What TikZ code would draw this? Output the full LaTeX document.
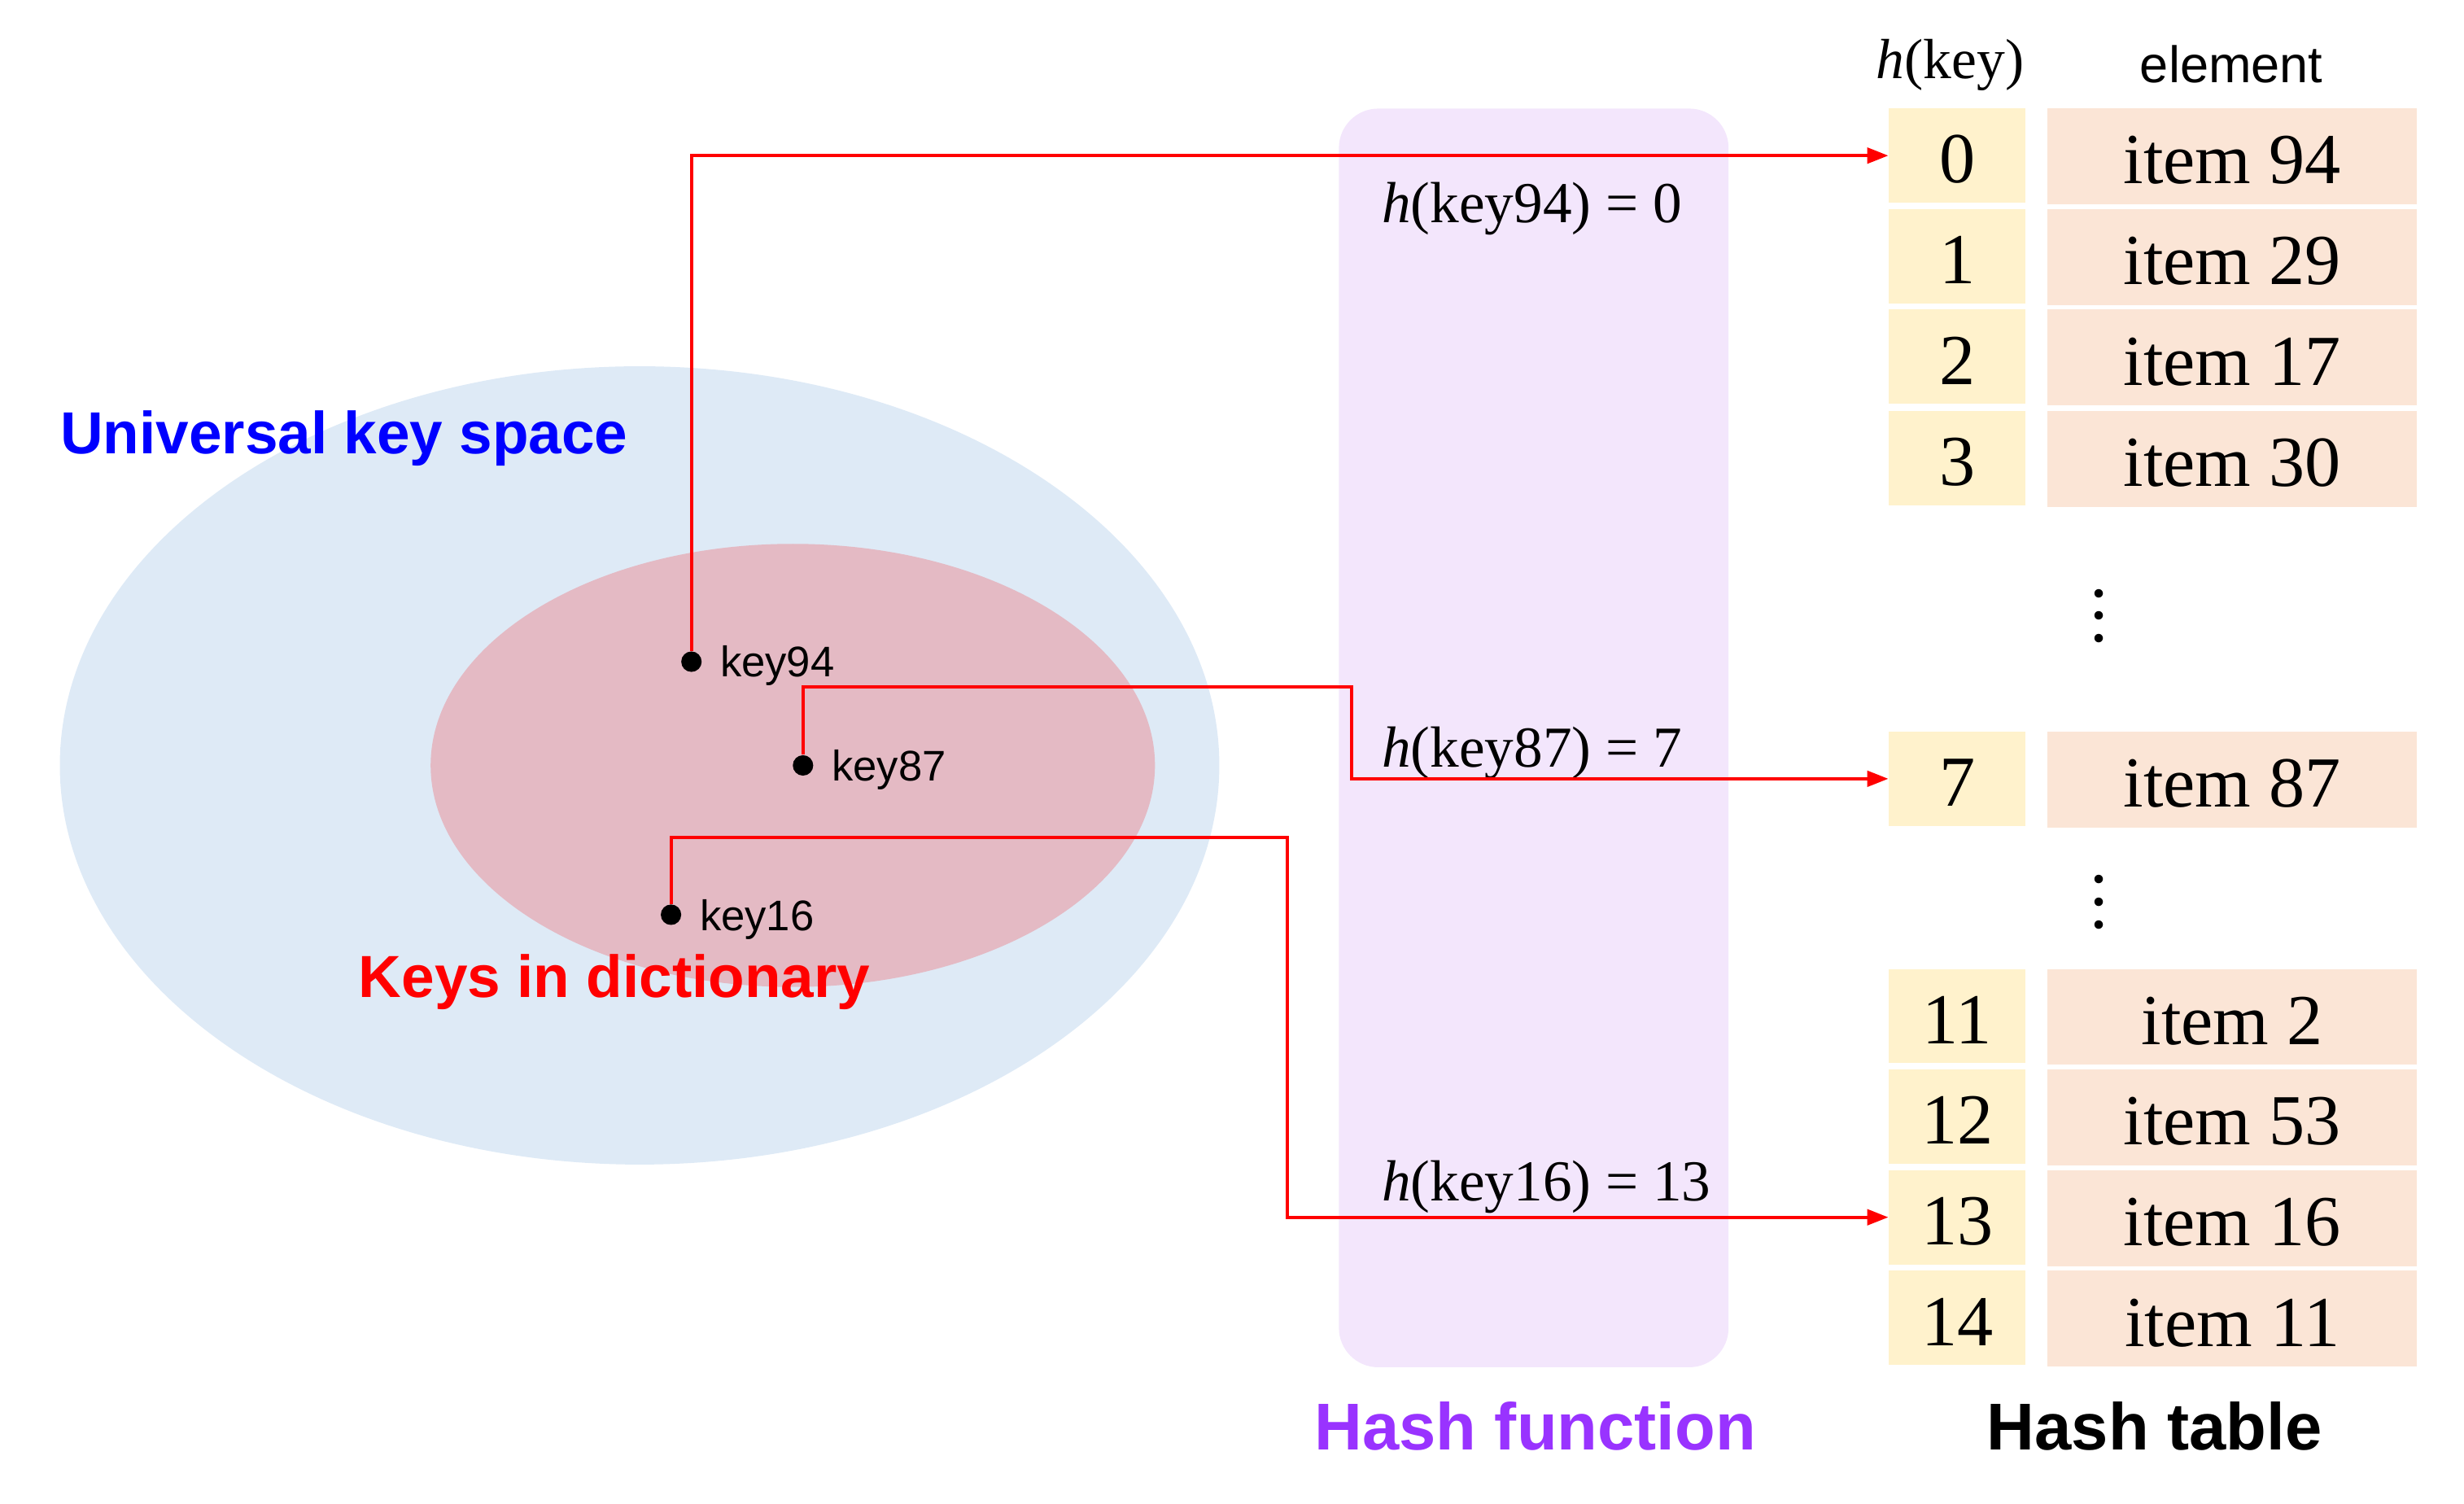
\documentclass[tikz,border=0pt]{standalone}
\usepackage{fontspec}
\setmainfont{Liberation Serif}
\newfontfamily\arial{Liberation Sans}
\usetikzlibrary{arrows.meta,shapes.geometric}
\definecolor{outerblue}{HTML}{DEEAF6}
\definecolor{innerpink}{HTML}{E4BAC4}
\definecolor{hashpurple}{HTML}{F3E6FC}
\definecolor{keycell}{HTML}{FFF2CC}
\definecolor{elemcell}{HTML}{FBE5D6}
\definecolor{purpletext}{HTML}{9933FF}
\definecolor{redline}{HTML}{FF0000}
\definecolor{bluetext}{HTML}{0000FF}
\newcommand{\myvdots}{\vbox{\baselineskip=8.2pt\lineskiplimit=0pt\hbox{.}\hbox{.}\hbox{.}}}
\begin{document}
\begin{tikzpicture}[x=0.02cm,y=-0.02cm,
  keybox/.style={fill=keycell, inner sep=0, minimum width=1.74cm, minimum height=1.2cm, text height=0.7cm, text depth=0cm, font=\fontsize{26}{30}\selectfont},
  elembox/.style={fill=elemcell, inner sep=0, minimum width=4.7cm, minimum height=1.22cm, text height=0.7cm, text depth=0cm, font=\fontsize{26}{30}\selectfont},
  keydot/.style={circle, fill=black, inner sep=0, minimum size=0.26cm},
  keylabel/.style={anchor=west, inner sep=0, font=\arial\fontsize{15.5}{18}\selectfont},
  hashlabel/.style={anchor=west, inner sep=0, font=\fontsize{21}{25}\selectfont},
  biglabel/.style={inner sep=0, font=\arial\bfseries\fontsize{21.5}{25}\selectfont},
  titlelabel/.style={inner sep=0, font=\arial\bfseries\fontsize{24}{28}\selectfont},
  redarrow/.style={draw=redline, line width=1.15pt, -{Triangle[length=0.27cm,width=0.2cm]}}
]
\useasboundingbox (0,0) rectangle (1568,956.5);

% key spaces
\node[ellipse, fill=outerblue, inner sep=0, minimum width=14.76cm, minimum height=10.16cm] (universe) at (407,487) {};
\node[ellipse, fill=innerpink, inner sep=0, minimum width=9.22cm, minimum height=5.64cm] (dict) at (504.5,487) {};
\node[biglabel, text=bluetext, anchor=west] (ulabel) at (38,279) {Universal key space};
\node[biglabel, text=redline, anchor=west] (dlabel) at (228,625) {Keys in dictionary};

% hash function box
\node[fill=hashpurple, rounded corners=0.5cm, inner sep=0, minimum width=4.96cm, minimum height=16.02cm] (hash) at (976,469.5) {};
\node[titlelabel, text=purpletext] (hlabel) at (977,907.5) {Hash function};

% table headers
\node[inner sep=0, font=\fontsize{20.5}{24}\selectfont] (hkey) at (1241,41.5) {\textit{h}(key)};
\node[inner sep=0, font=\arial\fontsize{18.6}{22}\selectfont] (helem) at (1420,41) {element};

% table rows
\node[keybox] (r0) at (1245.5,99) {0};
\node[elembox] (e0) at (1420.5,99.5) {item 94};
\node[keybox] (r1) at (1245.5,163) {1};
\node[elembox] (e1) at (1420.5,163.5) {item 29};
\node[keybox] (r2) at (1245.5,227) {2};
\node[elembox] (e2) at (1420.5,227.5) {item 17};
\node[keybox] (r3) at (1245.5,291.5) {3};
\node[elembox] (e3) at (1420.5,292) {item 30};
\node[inner sep=0, font=\fontsize{26}{30}\selectfont] (vd1) at (1335.5,392) {\myvdots};
\node[keybox] (r7) at (1245.5,495.5) {7};
\node[elembox] (e7) at (1420.5,496) {item 87};
\node[inner sep=0, font=\fontsize{26}{30}\selectfont] (vd2) at (1335.5,574) {\myvdots};
\node[keybox] (r11) at (1245.5,646.5) {11};
\node[elembox] (e11) at (1420.5,647) {item 2};
\node[keybox] (r12) at (1245.5,710.5) {12};
\node[elembox] (e12) at (1420.5,711) {item 53};
\node[keybox] (r13) at (1245.5,774.5) {13};
\node[elembox] (e13) at (1420.5,775) {item 16};
\node[keybox] (r14) at (1245.5,838.5) {14};
\node[elembox] (e14) at (1420.5,839) {item 11};
\node[titlelabel] (tlabel) at (1371,907.5) {Hash table};

% hash labels
\node[hashlabel] (h94) at (879,133) {\textit{h}(key94) = 0};
\node[hashlabel] (h87) at (879,479) {\textit{h}(key87) = 7};
\node[hashlabel] (h16) at (879,755) {\textit{h}(key16) = 13};

% keys
\node[keydot] (k94) at (440,421) {};
\node[keylabel] (l94) at (458,423.5) {key94};
\node[keydot] (k87) at (511,487) {};
\node[keylabel] (l87) at (529,490) {key87};
\node[keydot] (k16) at (427,582) {};
\node[keylabel] (l16) at (445,585) {key16};

% connectors
\coordinate (c87) at (860,437);
\coordinate (c16) at (819,533);
\draw[redarrow] (k94) |- (r0.west);
\draw[redarrow] (k87) |- (c87) |- (r7.west);
\draw[redarrow] (k16) |- (c16) |- (r13.west);
\end{tikzpicture}
\end{document}
